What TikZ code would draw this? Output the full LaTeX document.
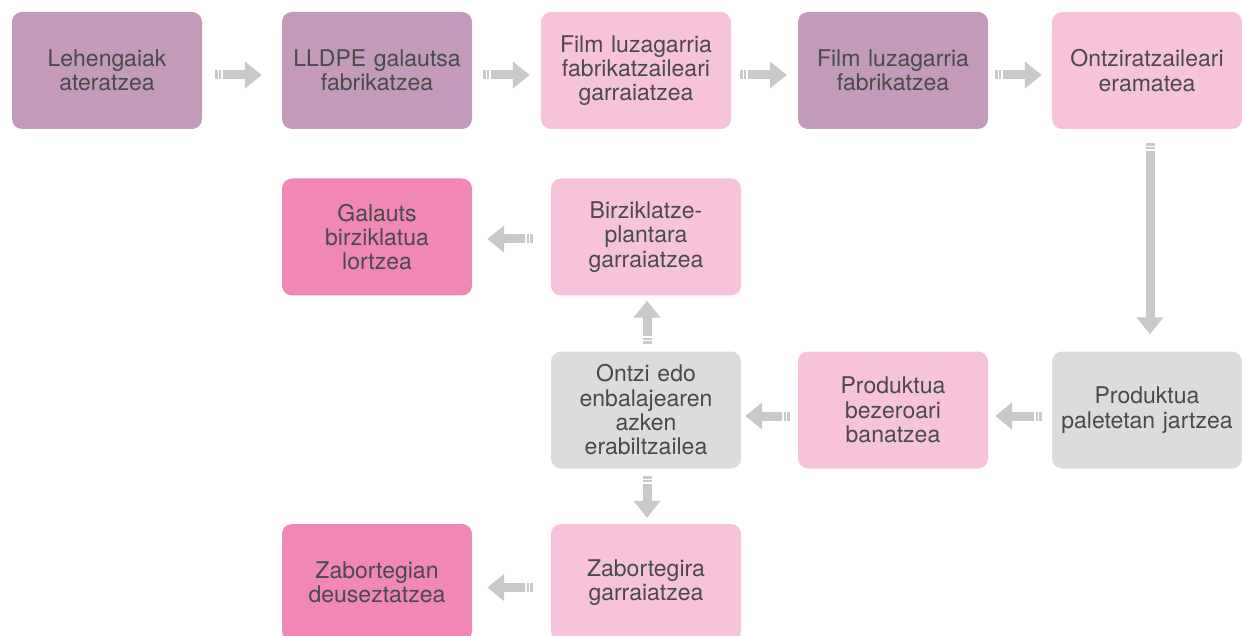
\documentclass[tikz,border=0pt]{standalone}
\usepackage{fontspec}
\setmainfont{TeX Gyre Heros}
\usetikzlibrary{arrows.meta,calc}
\definecolor{mauve}{HTML}{C39AB9}
\definecolor{lpink}{HTML}{F7C3DA}
\definecolor{hpink}{HTML}{F087B4}
\definecolor{lgray}{HTML}{DCDCDE}
\definecolor{txt}{HTML}{4A4A4C}
\definecolor{arr}{HTML}{C9C9CA}
\tikzset{
 box/.style={rectangle, rounded corners=10pt, minimum width=190pt, minimum height=117pt,
   text width=188pt, align=center, text=txt, font=\fontsize{23}{24.3}\selectfont, inner sep=0pt},
 shaft/.style={draw=arr, line width=9pt, -{Triangle[width=26pt,length=17pt]}},
 stripes/.style={draw=arr, line width=9pt, dash pattern=on 3pt off 1pt on 2pt off 2pt},
}
\newcommand\blkarrow[2]{%
 \draw[stripes] (#1) -- ($(#1)!8pt!(#2)$);
 \draw[shaft] ($(#1)!8pt!(#2)$) -- (#2);}
\begin{document}
\begin{tikzpicture}[x=1pt,y=-1pt]
\useasboundingbox (0,0) rectangle (1242,636);
% row 1
\node[box, fill=mauve] (b1) at (107,70.5) {Lehengaiak\\ateratzea};
\node[box, fill=mauve] (b2) at (377,70.5) {LLDPE galautsa\\fabrikatzea};
\node[box, fill=lpink] (b3) at (636,70.5) {Film luzagarria\\fabrikatzaileari\\garraiatzea};
\node[box, fill=mauve] (b4) at (893,70.5) {Film luzagarria\\fabrikatzea};
\node[box, fill=lpink] (b5) at (1147,70.5) {Ontziratzaileari\\eramatea};
% row 2
\node[box, fill=hpink] (gal) at (377,237) {Galauts\\birziklatua\\lortzea};
\node[box, fill=lpink] (bir) at (646,237) {Birziklatze-\\plantara\\garraiatzea};
% row 3
\node[box, fill=lgray] (ont) at (646,410) {Ontzi edo\\enbalajearen\\azken\\erabiltzailea};
\node[box, fill=lpink] (ban) at (893,410) {Produktua\\bezeroari\\banatzea};
\node[box, fill=lgray] (pal) at (1147,410) {Produktua\\paletetan jartzea};
% row 4
\node[box, fill=hpink] (zbn) at (377,582.5) {Zabortegian\\deuseztatzea};
\node[box, fill=lpink] (zbr) at (646,582.5) {Zabortegira\\garraiatzea};
% arrows
\coordinate (a1s) at ($(b1.east)+(13,4.5)$); \coordinate (a1e) at ($(b2.west)+(-20,4.5)$);
\blkarrow{a1s}{a1e}
\coordinate (a2s) at ($(b2.east)+(11,4.5)$); \coordinate (a2e) at ($(b3.west)+(-11,4.5)$);
\blkarrow{a2s}{a2e}
\coordinate (a3s) at ($(b3.east)+(9,4.5)$); \coordinate (a3e) at ($(b4.west)+(-11,4.5)$);
\blkarrow{a3s}{a3e}
\coordinate (a4s) at ($(b4.east)+(7,4.5)$); \coordinate (a4e) at ($(b5.west)+(-10,4.5)$);
\blkarrow{a4s}{a4e}
\coordinate (a5s) at ($(b5.south)+(3,14)$); \coordinate (a5e) at ($(pal.north)+(3,-17)$);
\blkarrow{a5s}{a5e}
\coordinate (a6s) at ($(pal.west)+(-10,6)$); \coordinate (a6e) at ($(ban.east)+(7,6)$);
\blkarrow{a6s}{a6e}
\coordinate (a7s) at ($(ban.west)+(-8,6)$); \coordinate (a7e) at ($(ont.east)+(4,6)$);
\blkarrow{a7s}{a7e}
\coordinate (a8s) at ($(ont.north)+(1,-7)$); \coordinate (a8e) at ($(bir.south)+(1,5)$);
\blkarrow{a8s}{a8e}
\coordinate (a9s) at ($(ont.south)+(1,7)$); \coordinate (a9e) at ($(zbr.north)+(1,-6)$);
\blkarrow{a9s}{a9e}
\coordinate (a10s) at ($(bir.west)+(-18,2)$); \coordinate (a10e) at ($(gal.east)+(15,2)$);
\blkarrow{a10s}{a10e}
\coordinate (a11s) at ($(zbr.west)+(-18,5)$); \coordinate (a11e) at ($(zbn.east)+(15,5)$);
\blkarrow{a11s}{a11e}
\end{tikzpicture}
\end{document}
